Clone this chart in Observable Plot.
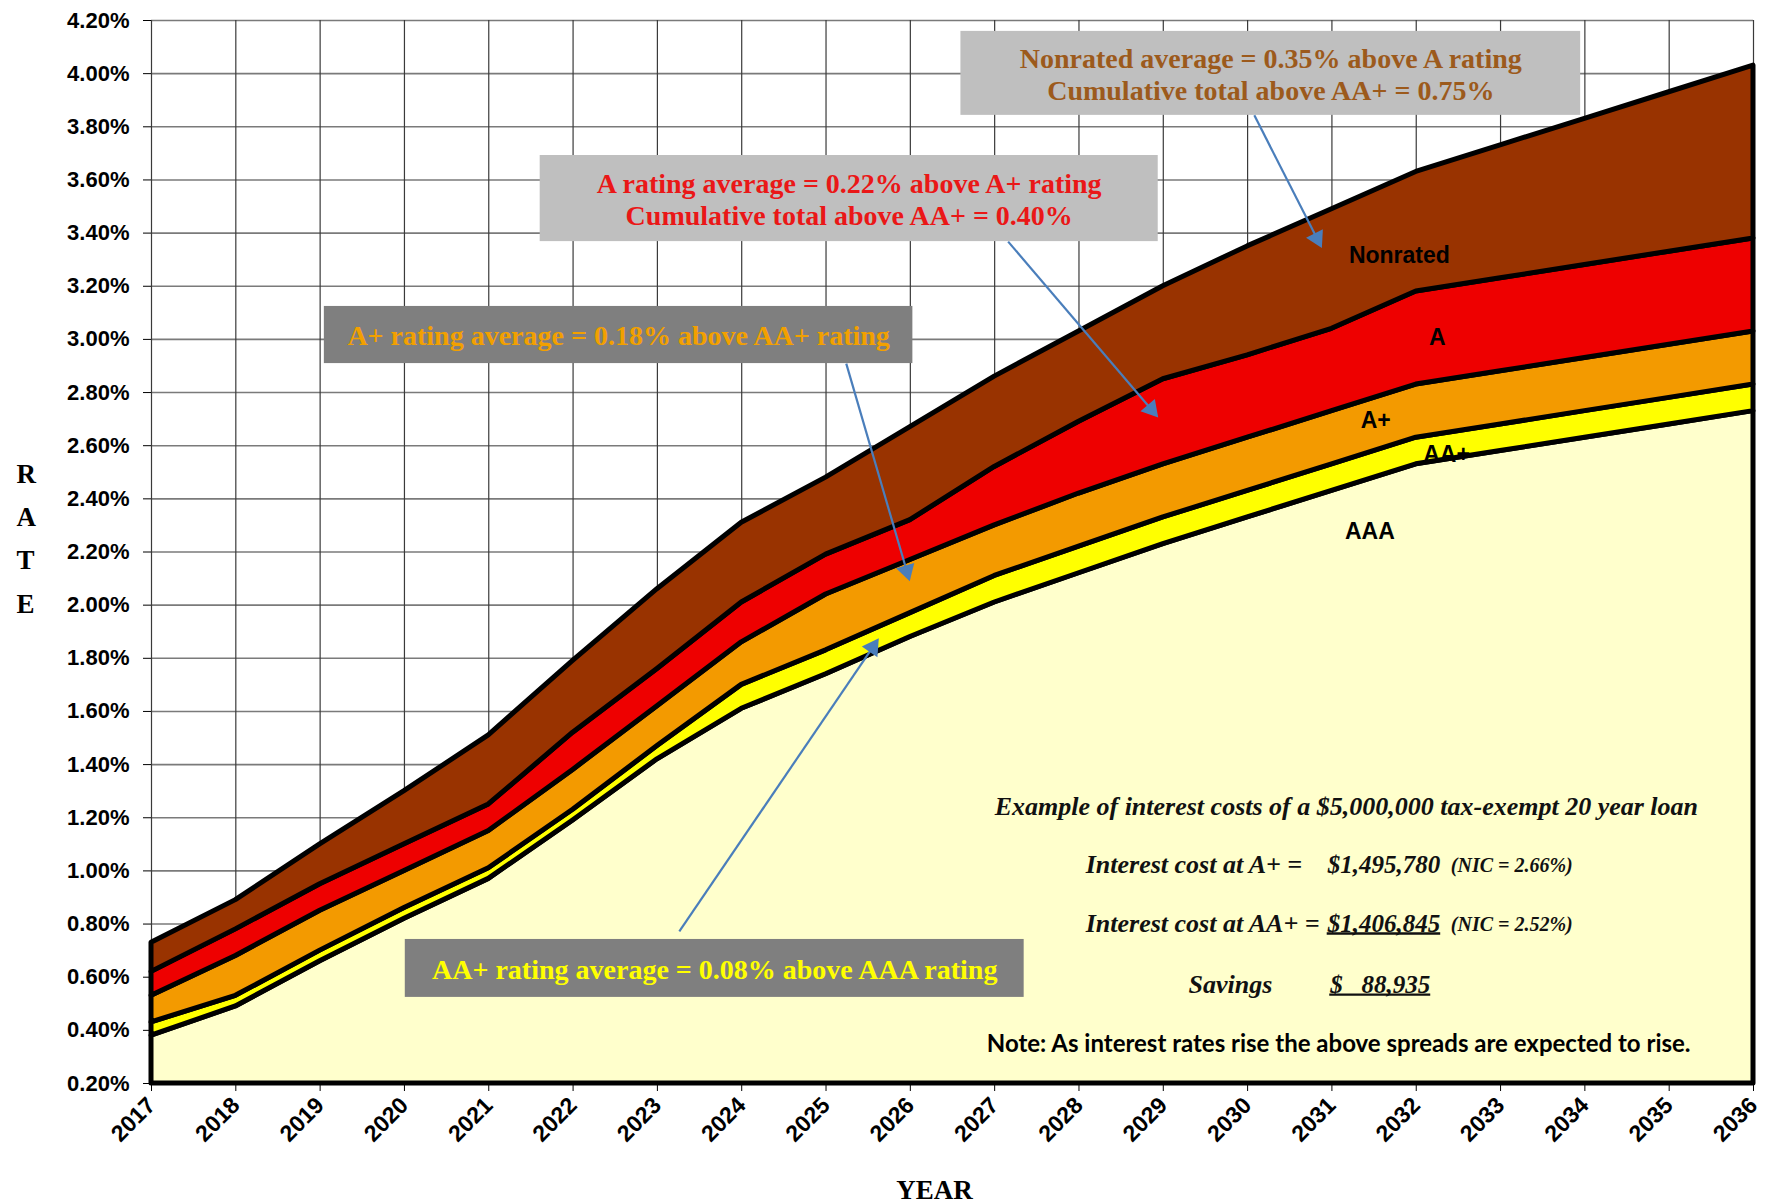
<!DOCTYPE html>
<html>
<head>
<meta charset="utf-8">
<script src="https://cdn.jsdelivr.net/npm/d3@7"></script>
<script src="https://cdn.jsdelivr.net/npm/@observablehq/plot@0.6"></script>
<style>
  html, body { margin: 0; padding: 0; background: #ffffff; }
  #chart { width: 1771px; height: 1204px; }
</style>
</head>
<body>
<div id="chart"></div>
<script>
// ---------- data ----------
const years = [2017, 2018, 2019, 2020, 2021, 2022, 2023, 2024, 2025, 2026,
               2027, 2028, 2029, 2030, 2031, 2032, 2033, 2034, 2035, 2036];
const aaa      = [0.38, 0.49, 0.66, 0.82, 0.97, 1.19, 1.42, 1.61, 1.74, 1.88, 2.01, 2.12, 2.23, 2.33, 2.43, 2.53, 2.58, 2.63, 2.68, 2.73];
const aaPlus   = [0.43, 0.53, 0.70, 0.86, 1.01, 1.23, 1.47, 1.70, 1.83, 1.97, 2.11, 2.22, 2.33, 2.43, 2.53, 2.63, 2.68, 2.73, 2.78, 2.83];
const aPlus    = [0.53, 0.68, 0.85, 1.00, 1.15, 1.38, 1.62, 1.86, 2.04, 2.17, 2.30, 2.42, 2.53, 2.63, 2.73, 2.83, 2.88, 2.93, 2.98, 3.03];
const aRating  = [0.62, 0.78, 0.95, 1.10, 1.25, 1.52, 1.76, 2.01, 2.19, 2.32, 2.52, 2.69, 2.85, 2.94, 3.04, 3.18, 3.23, 3.28, 3.33, 3.38];
const nonrated = [0.73, 0.89, 1.10, 1.30, 1.51, 1.79, 2.06, 2.31, 2.48, 2.67, 2.86, 3.03, 3.20, 3.35, 3.49, 3.63, 3.73, 3.83, 3.93, 4.03];

const ratings = ["AAA", "AA+", "A+", "A", "Nonrated"];
const ratingColors = ["#ffffcc", "#ffff00", "#f39a00", "#ee0000", "#993300"];
const yTicks = [0.2, 0.4, 0.6, 0.8, 1.0, 1.2, 1.4, 1.6, 1.8, 2.0, 2.2, 2.4, 2.6, 2.8, 3.0, 3.2, 3.4, 3.6, 3.8, 4.0, 4.2];

// in-chart band labels (data coordinates)
const bandLabelText = ["Nonrated", "A", "A+", "AA+", "AAA"];
const bandLabelX    = [2031.80, 2032.25, 2031.52, 2032.36, 2031.45];
const bandLabelY    = [3.316, 3.007, 2.695, 2.567, 2.277];

// callout boxes (data coordinates)
const boxText  = ["Nonrated average = 0.35% above A rating\nCumulative total above AA+ = 0.75%",
                  "A rating average = 0.22% above A+ rating\nCumulative total above AA+ = 0.40%",
                  "A+ rating average = 0.18% above AA+ rating",
                  "AA+ rating average = 0.08% above AAA rating"];
const boxX1    = [2026.60, 2021.61, 2019.05, 2020.01];
const boxX2    = [2033.95, 2028.94, 2026.03, 2027.35];
const boxY1    = [3.843, 3.368, 2.909, 0.524];
const boxY2    = [4.159, 3.692, 3.124, 0.742];
const boxFill  = ["#bfbfbf", "#bfbfbf", "#7f7f7f", "#7f7f7f"];
const boxInk   = ["#9c5a1c", "#ea1717", "#f2a000", "#ffff00"];

// arrows (data coordinates)
const arrowX1 = [2030.08, 2027.16, 2025.24, 2023.26];
const arrowY1 = [3.843, 3.368, 2.909, 0.772];
const arrowX2 = [2030.86, 2028.91, 2025.98, 2025.60];
const arrowY2 = [3.357, 2.717, 2.104, 1.863];

// loan example text (data coordinates)
const noteLines = [
  {text: "Example of interest costs of a $5,000,000 tax-exempt 20 year loan", x: 2027.00, y: 1.242, kind: "text"},
  {text: "Interest cost at A+ =", x: 2028.08, y: 1.024, kind: "text"},
  {text: "$1,495,780", x: 2030.95, y: 1.024, kind: "num"},
  {text: "(NIC = 2.66%)", x: 2032.41, y: 1.019, kind: "nic"},
  {text: "Interest cost at AA+ =", x: 2028.08, y: 0.802, kind: "text"},
  {text: "$1,406,845", x: 2030.95, y: 0.802, kind: "under"},
  {text: "(NIC = 2.52%)", x: 2032.41, y: 0.797, kind: "nic"},
  {text: "Savings", x: 2029.30, y: 0.572, kind: "text"},
  {text: "$\u00a0\u00a0\u00a088,935", x: 2030.98, y: 0.572, kind: "under"}
];
const footNote = "Note: As interest rates rise the above spreads are expected to rise.";
const footNoteX = 2031.08, footNoteY = 0.347;

// ---------- build tables ----------
const W = 1771, H = 1204, mL = 151, mR = 18, mT = 20, mB = 121;
const series = [aaa, aaPlus, aPlus, aRating, nonrated];
const yMin = yTicks[0], yMax = yTicks[yTicks.length - 1];
const bands = [];
ratings.forEach((r, i) => years.forEach((yr, j) => {
  bands.push({rating: r, year: yr, lo: i === 0 ? yMin : series[i - 1][j], hi: series[i][j]});
}));
const labels = bandLabelText.map((t, i) => ({text: t, x: bandLabelX[i], y: bandLabelY[i]}));
const boxes = boxText.map((t, i) => ({
  text: t, x1: boxX1[i], x2: boxX2[i], y1: boxY1[i], y2: boxY2[i],
  fill: boxFill[i], ink: boxInk[i], cx: (boxX1[i] + boxX2[i]) / 2, cy: (boxY1[i] + boxY2[i]) / 2
}));
// screen-space direction for filled arrow heads
const pxPerYear = (W - mL - mR) / (years[years.length - 1] - years[0]);
const pxPerUnit = (H - mT - mB) / (yMax - yMin);
const arrows = arrowX1.map((x, i) => {
  const dx = (arrowX2[i] - x) * pxPerYear;
  const dy = -(arrowY2[i] - arrowY1[i]) * pxPerUnit;
  const len = Math.hypot(dx, dy);
  const back = 7;
  return {
    x1: x, y1: arrowY1[i], x2: arrowX2[i], y2: arrowY2[i],
    hx: arrowX2[i] - (dx / len) * back / pxPerYear,
    hy: arrowY2[i] + (dy / len) * back / pxPerUnit,
    angle: Math.atan2(dx, -dy) * 180 / Math.PI
  };
});

const serif = "'Liberation Serif', 'Times New Roman', serif";
const sans = "'Liberation Sans', Arial, sans-serif";
const noteFont = {text: 26, num: 25, under: 25, nic: 20};

const marks = [
  Plot.gridY(yTicks, {stroke: "#7a7a7a", strokeOpacity: 1, strokeWidth: 1.6}),
  Plot.gridX(years, {stroke: "#3a3a3a", strokeOpacity: 1, strokeWidth: 1.2})
];
ratings.forEach((r, i) => {
  marks.push(Plot.areaY(bands.filter(d => d.rating === r), {
    x: "year", y1: "lo", y2: "hi", fill: ratingColors[i],
    stroke: "#000", strokeWidth: 5, strokeLinejoin: "round"
  }));
});
marks.push(
  Plot.axisY(yTicks, {tickFormat: d => d.toFixed(2) + "%", fontSize: 22, fontWeight: "bold",
    tickSize: 8, tickPadding: 14, label: null, fontFamily: sans}),
  Plot.axisX(years, {tickFormat: d => String(d), tickRotate: -45, fontSize: 23, fontWeight: "bold",
    tickSize: 8, tickPadding: 10, label: null, fontFamily: sans}),
  Plot.text(labels, {x: "x", y: "y", text: "text", fontSize: 23, fontWeight: "bold", fontFamily: sans, fill: "#000"}),
  Plot.rect(boxes, {x1: "x1", x2: "x2", y1: "y1", y2: "y2", fill: "fill"}),
  Plot.text(boxes, {x: "cx", y: "cy", text: "text", fill: "ink", fontSize: 28, fontWeight: "bold",
    fontFamily: serif, lineHeight: 1.14}),
  Plot.link(arrows, {x1: "x1", y1: "y1", x2: "hx", y2: "hy", stroke: "#4a7ebb", strokeWidth: 2.2}),
  Plot.dot(arrows, {x: "hx", y: "hy", symbol: "triangle", r: 7, rotate: "angle", fill: "#4a7ebb", stroke: "none"}),
  Plot.text(noteLines.filter(d => d.kind !== "under"), {x: "x", y: "y", text: "text", textAnchor: "start",
    fontSize: d => noteFont[d.kind], fontWeight: "bold", fontStyle: "italic", fontFamily: serif, fill: "#111"}),
  Plot.text(noteLines.filter(d => d.kind === "under"), {x: "x", y: "y", text: "text", textAnchor: "start",
    fontSize: d => noteFont[d.kind], fontWeight: "bold", fontStyle: "italic", fontFamily: serif, fill: "#111",
    ariaLabel: () => "underlined"}),
  Plot.text([footNote], {x: () => footNoteX, y: () => footNoteY, text: d => d, fontSize: 24,
    fontWeight: "bold", fontFamily: "Lato, 'Open Sans', sans-serif", fill: "#000"}),
  Plot.text(["RATE"], {text: d => d.split("").join("\n"), frameAnchor: "left", dx: -135, dy: -18,
    lineHeight: 1.6, fontSize: 27, fontWeight: "bold", fontFamily: serif, fill: "#000"}),
  Plot.text(["YEAR"], {text: d => d, frameAnchor: "bottom", dy: 115, dx: -18,
    fontSize: 27, fontWeight: "bold", fontFamily: serif, fill: "#000"})
);

const chart = Plot.plot({
  width: W,
  height: H,
  marginLeft: mL,
  marginRight: mR,
  marginTop: mT,
  marginBottom: mB,
  x: {domain: [years[0], years[years.length - 1]]},
  y: {domain: [yMin, yMax]},
  style: {background: "#ffffff", fontFamily: sans, overflow: "visible"},
  marks
});
document.getElementById("chart").appendChild(chart);
// underline the highlighted amounts
chart.querySelectorAll('text[aria-label="underlined"]').forEach(t => {
  const b = t.getBBox();
  const ly = b.y + b.height - 3;
  const line = document.createElementNS("http://www.w3.org/2000/svg", "line");
  line.setAttribute("x1", b.x);
  line.setAttribute("x2", b.x + b.width);
  line.setAttribute("y1", ly);
  line.setAttribute("y2", ly);
  line.setAttribute("stroke", "#111");
  line.setAttribute("stroke-width", "2.4");
  const tr = t.getAttribute("transform");
  if (tr) line.setAttribute("transform", tr);
  t.parentNode.appendChild(line);
});
</script>
</body>
</html>
